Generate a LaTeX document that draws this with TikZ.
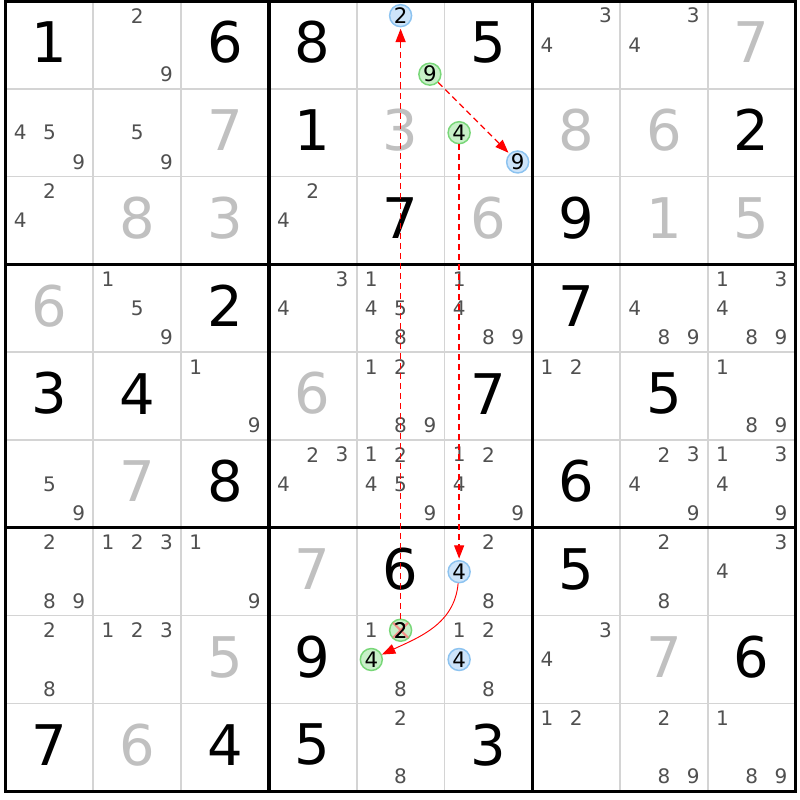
\documentclass[tikz,border=0pt]{standalone}
\usepackage{fontspec}
\setmainfont{DejaVu Sans}
\usetikzlibrary{arrows.meta}
\definecolor{pencilc}{RGB}{80,80,80}
\definecolor{derived}{RGB}{192,192,192}
\definecolor{thinc}{RGB}{212,212,212}
\definecolor{bfill}{RGB}{205,228,250}
\definecolor{bline}{RGB}{140,195,240}
\definecolor{gfill}{RGB}{200,240,200}
\definecolor{gline}{RGB}{120,215,120}
\definecolor{xred}{RGB}{255,120,120}
\newcommand\GV[3]{\node[given] (n#1#2) at ({5.5+87.8*(#2-0.5)},{-1.5+87.8*(#1-0.5)}) {#3};}
\newcommand\DV[3]{\node[derivedd] (n#1#2) at ({5.5+87.8*(#2-0.5)},{-1.5+87.8*(#1-0.5)}) {#3};}
\newcommand\PM[3]{\foreach \d in {#3}{\node[pencil] (p#1#2\d) at ({5.5+87.8*(#2-1)+14.63+29.27*mod(\d-1,3)},{1+87.8*(#1-1)+14.63+29.27*floor((\d-1)/3)}) {\d};}}
\newcommand\CC[5]{\node[#1] (#2) at ({5.5+87.8*(#4-1)+14.63+29.27*mod(#5-1,3)},{1+87.8*(#3-1)+14.63+29.27*floor((#5-1)/3)}) {#5};}
\begin{document}
\begin{tikzpicture}[x=0.75pt,y=-0.75pt,
 given/.style={inner sep=0pt, font=\fontsize{42}{42}\selectfont, text=black},
 derivedd/.style={given, text=derived},
 pencil/.style={inner sep=0pt, font=\fontsize{15}{15}\selectfont, text=pencilc},
 bluec/.style={circle, draw=bline, fill=bfill, line width=1.1pt, minimum size=16.5pt, inner sep=0pt, font=\fontsize{16}{16}\selectfont, text=black},
 greenc/.style={bluec, draw=gline, fill=gfill},
 chain/.style={red, line width=1pt, dash pattern=on 4.5pt off 3pt, -{Triangle[length=10pt,width=7.5pt]}, shorten >=1pt},
 link/.style={red, line width=0.7pt, -{Triangle[length=10pt,width=7.5pt]}},
 thinl/.style={thinc, line width=1.3pt},
 thickl/.style={black, line width=2.4pt},
]
\fill[white] (0,0) rectangle (800,800);
\useasboundingbox (0,0) rectangle (800,800);
% thin lines
\foreach \k in {1,2,4,5,7,8}{
  \draw[thinl] ({5.5+87.8*\k},1) -- ({5.5+87.8*\k},791.2);
  \draw[thinl] (5.5,{1+87.8*\k}) -- (795.7,{1+87.8*\k});
}
\foreach \k in {0,3,6,9}{
  \draw[thickl] ({5.5+87.8*\k},-1) -- ({5.5+87.8*\k},792.5);
  \draw[thickl] (4.2,{1+87.8*\k}) -- (797,{1+87.8*\k});
}
% row 1
\GV11{1}\PM12{2,9}\GV13{6}\GV14{8}\GV16{5}\PM17{3,4}\PM18{3,4}\DV19{7}
% row 2
\PM21{4,5,9}\PM22{5,9}\DV23{7}\GV24{1}\DV25{3}\DV27{8}\DV28{6}\GV29{2}
% row 3
\PM31{2,4}\DV32{8}\DV33{3}\PM34{2,4}\GV35{7}\DV36{6}\GV37{9}\DV38{1}\DV39{5}
% row 4
\DV41{6}\PM42{1,5,9}\GV43{2}\PM44{3,4}\PM45{1,4,5,8}\PM46{1,4,8,9}\GV47{7}\PM48{4,8,9}\PM49{1,3,4,8,9}
% row 5
\GV51{3}\GV52{4}\PM53{1,9}\DV54{6}\PM55{1,2,8,9}\GV56{7}\PM57{1,2}\GV58{5}\PM59{1,8,9}
% row 6
\PM61{5,9}\DV62{7}\GV63{8}\PM64{2,3,4}\PM65{1,2,4,5,9}\PM66{1,2,4,9}\GV67{6}\PM68{2,3,4,9}\PM69{1,3,4,9}
% row 7
\PM71{2,8,9}\PM72{1,2,3}\PM73{1,9}\DV74{7}\GV75{6}\PM76{2,8}\GV77{5}\PM78{2,8}\PM79{3,4}
% row 8
\PM81{2,8}\PM82{1,2,3}\DV83{5}\GV84{9}\PM85{1,8}\PM86{1,2,8}\PM87{3,4}\DV88{7}\GV89{6}
% row 9
\GV91{7}\DV92{6}\GV93{4}\GV94{5}\PM95{2,8}\GV96{3}\PM97{1,2}\PM98{2,8,9}\PM99{1,8,9}
% circled candidates
\CC{bluec}{b2}152
\CC{greenc}{g9}159
\CC{greenc}{g4a}264
\CC{bluec}{b9}269
\CC{bluec}{b4a}764
\CC{greenc}{g2}852
\CC{greenc}{g4b}854
\CC{bluec}{b4b}864
\draw[xred, line width=1.6pt, opacity=0.8] ([shift={(-7.5,-7.5)}]g2.center) -- ([shift={(7.5,7.5)}]g2.center);
\draw[xred, line width=1.6pt, opacity=0.8] ([shift={(7.5,-7.5)}]g2.center) -- ([shift={(-7.5,7.5)}]g2.center);
\node[inner sep=0pt, font=\fontsize{16}{16}\selectfont] (g2t) at (g2.center) {2};
% chains
\draw[chain] (g2) -- (b2);
\draw[chain] (g9) -- (b9);
\draw[chain] (g4a) -- (b4a);
\draw[link] (b4a) to[out=-95,in=25] (g4b);
\end{tikzpicture}
\end{document}
